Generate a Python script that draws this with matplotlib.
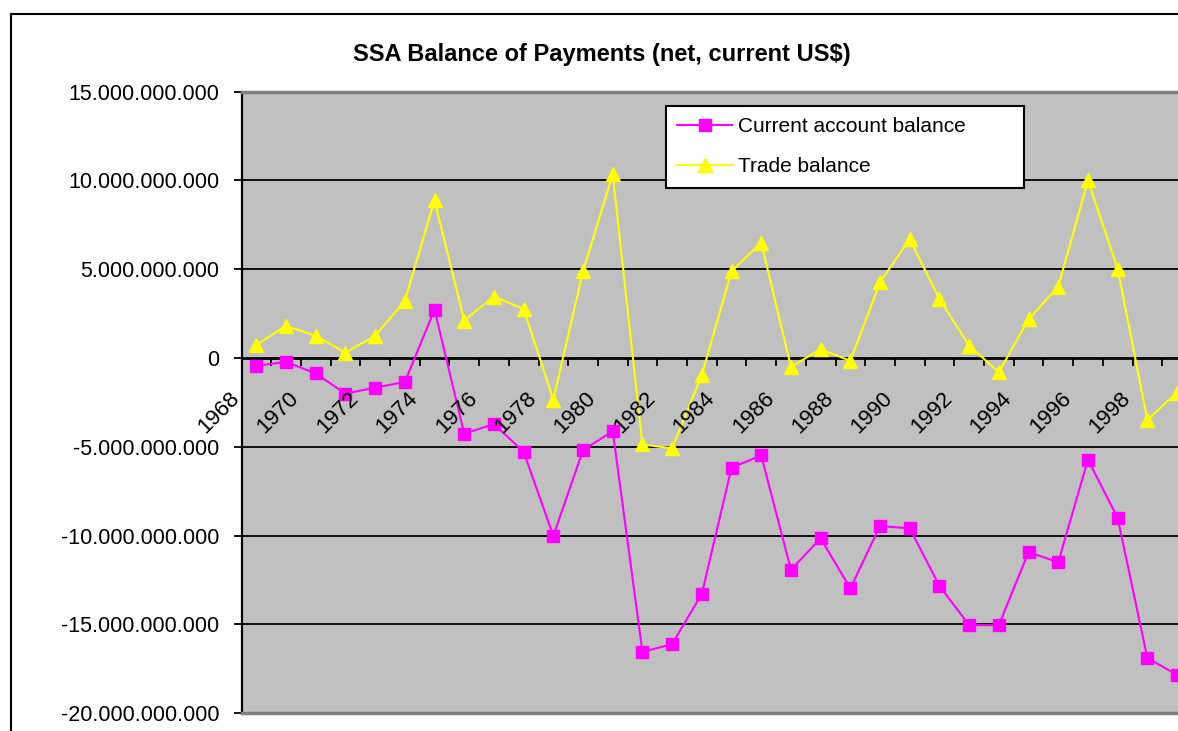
import matplotlib
matplotlib.use('Agg')
import numpy as np
import matplotlib.pyplot as plt
from matplotlib.lines import Line2D
from matplotlib.ticker import FuncFormatter
import matplotlib.transforms as mtransforms

# ---------------- data ----------------
years = [1968, 1969, 1970, 1971, 1972, 1973, 1974, 1975, 1976, 1977, 1978, 1979,
         1980, 1981, 1982, 1983, 1984, 1985, 1986, 1987, 1988, 1989, 1990, 1991,
         1992, 1993, 1994, 1995, 1996, 1997, 1998, 1999]
# billions of current US$
current_account = [-0.44, -0.22, -0.87, -2.01, -1.67, -1.35, 2.72, -4.27, -3.72, -5.29,
                   -10.02, -5.19, -4.12, -16.56, -16.12, -13.28, -6.18, -5.49, -11.93,
                   -10.16, -12.98, -9.46, -9.60, -12.84, -15.05, -15.05, -10.93, -11.51,
                   -5.73, -9.01, -16.90, -17.85]
trade_balance = [0.74, 1.81, 1.25, 0.30, 1.25, 3.22, 8.89, 2.11, 3.46, 2.76, -2.35, 4.89,
                 10.36, -4.87, -5.09, -0.95, 4.89, 6.50, -0.50, 0.50, -0.16, 4.27, 6.70,
                 3.32, 0.70, -0.80, 2.17, 4.02, 10.00, 5.03, -3.48, -1.95]
label_years = years[::2]
y_ticks = [-20e9, -15e9, -10e9, -5e9, 0, 5e9, 10e9, 15e9]
series_names = ['Current account balance', 'Trade balance']
title = 'SSA Balance of Payments (net, current US$)'

plt.rcParams['font.family'] = ['Liberation Sans', 'DejaVu Sans']

W, H = 1178, 731
fig = plt.figure(figsize=(W / 100, H / 100), dpi=100)
fig.patch.set_facecolor('white')

cat_px = 29.7
left_px = 241.5
right_px = left_px + 34 * cat_px
top_px, bot_px = 91.75, 713
ax = fig.add_axes([left_px / W, 1 - bot_px / H, (right_px - left_px) / W, (bot_px - top_px) / H])
ax.set_facecolor('#C0C0C0')

x = np.arange(len(years))
ca = np.array(current_account) * 1e9
tb = np.array(trade_balance) * 1e9

ax.plot(x, ca, color='#FF00FF', lw=1.5, marker='s', ms=8.5, mfc='#FF00FF', mec='#FF00FF',
        label=series_names[0], zorder=3)
ax.plot(x, tb, color='#FFFF00', lw=1.5, marker='^', ms=9.5, mfc='#FFFF00', mec='#FFFF00',
        label=series_names[1], zorder=3)

ax.set_xlim(-0.5, 33.5)
ax.set_ylim(-20e9, 15e9)

# gridlines
for v in y_ticks[1:-1]:
    if v != 0:
        ax.axhline(v, color='black', lw=1.3, zorder=1)
ax.axhline(-20e9, color='#808080', lw=2.5, zorder=4, clip_on=False)

# spines
ax.spines['left'].set_color('black')
ax.spines['left'].set_linewidth(1.6)
ax.spines['bottom'].set_position(('data', 0))
ax.spines['bottom'].set_color('black')
ax.spines['bottom'].set_linewidth(2)
ax.spines['top'].set_color('#808080')
ax.spines['top'].set_linewidth(2.5)
ax.spines['right'].set_visible(False)

# y axis
ax.set_yticks(y_ticks)
ax.yaxis.set_major_formatter(FuncFormatter(lambda v, p: f"{int(round(v)):,}".replace(',', '.')))
ax.tick_params(axis='y', direction='out', length=6, width=1.3, pad=10, labelsize=15.5)

# x axis: tick marks at category boundaries
ax.set_xticks(np.arange(-0.5, 34, 1))
ax.set_xticklabels([])
ax.tick_params(axis='x', direction='out', length=6, width=1.3)

offset = mtransforms.offset_copy(ax.transData, fig=fig, x=-20, y=-37, units='dots')
for yr in label_years:
    ax.text(years.index(yr), 0, str(yr), transform=offset, rotation=45,
            rotation_mode='anchor', ha='right', va='center', fontsize=16, zorder=5)

# legend
leg = ax.legend(loc='upper left',
                bbox_to_anchor=(666 / W, 1 - 106 / H, (1024 - 666) / W, 0),
                bbox_transform=fig.transFigure, mode='expand', frameon=True,
                fancybox=False, edgecolor='black', framealpha=1, fontsize=15,
                handlelength=2.6, handletextpad=0.3, labelspacing=1.0,
                borderpad=0.55, borderaxespad=0)
leg.get_frame().set_linewidth(1.5)
leg.set_zorder(10)

fig.text(602 / W, 1 - 55 / H, title, ha='center', va='center', fontsize=17, fontweight='bold')

# chart-area frame
fig.add_artist(Line2D([10.5 / W, 10.5 / W], [0, 1 - 14 / H], color='black', lw=1.5,
                      transform=fig.transFigure))
fig.add_artist(Line2D([10.5 / W, 1], [1 - 14 / H, 1 - 14 / H], color='black', lw=1.5,
                      transform=fig.transFigure))

fig.savefig('out.png', dpi=100)
